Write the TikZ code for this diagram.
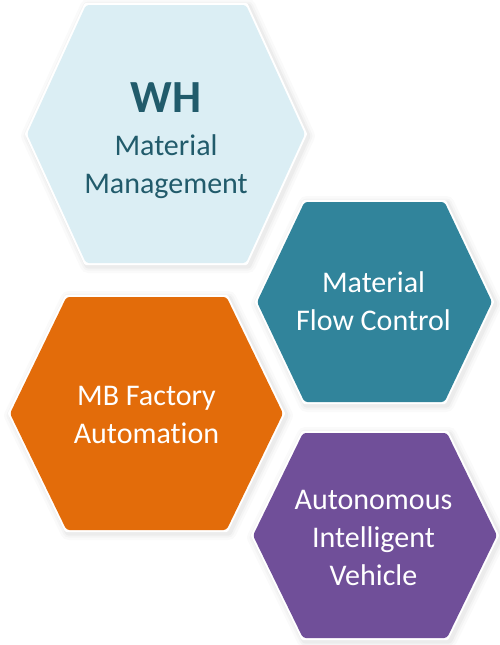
\documentclass[tikz,border=0pt]{standalone}
\usepackage{fontspec}
\setmainfont{Carlito}[Ligatures={NoCommon}]
\definecolor{hexlight}{HTML}{DBEEF4}
\definecolor{hexlighttext}{HTML}{215B6B}
\definecolor{hexteal}{HTML}{31849B}
\definecolor{hexorange}{HTML}{E36C0A}
\definecolor{hexpurple}{HTML}{704F99}
\newcommand\myhex[6]{%
  \path[#6] ({#1-#3},{#2}) -- ({#1-#5},{#2-#4}) -- ({#1+#5},{#2-#4}) -- ({#1+#3},{#2}) -- ({#1+#5},{#2+#4}) -- ({#1-#5},{#2+#4}) -- cycle;}
\newcommand\myhexfull[6]{%
  \myhex{#1}{#2}{#3}{#4}{#5}{glowA}
  \myhex{#1}{#2}{#3}{#4}{#5}{glowB}
  \myhex{#1}{#2}{#3}{#4}{#5}{glowC}
  \myhex{#1}{#2}{#3}{#4}{#5}{rimwhite}
  \myhex{#1}{#2}{#3}{#4}{#5}{fill=#6, rounded corners=3pt}}
\tikzset{
  glowA/.style={draw=black, line width=16pt, opacity=0.02, line join=round, shift={(2,2)}},
  glowB/.style={draw=black, line width=11pt, opacity=0.025, line join=round, shift={(2,2)}},
  glowC/.style={draw=black, line width=7pt, opacity=0.03, line join=round, shift={(2,2)}},
  rimwhite/.style={draw=white, line width=4pt, line join=round},
  hextext/.style={align=center, font=\fontsize{30}{38}\selectfont, text=white, inner sep=0pt, anchor=base},
}
\begin{document}
\begin{tikzpicture}[x=1pt, y=-1pt]
\useasboundingbox[fill=white] (0,0) rectangle (500,645);
\myhexfull{166}{134}{139}{129}{80}{hexlight}
\myhexfull{374.5}{302}{117.5}{100}{70}{hexteal}
\myhexfull{146.5}{413.5}{136.5}{116.5}{80}{hexorange}
\myhexfull{375}{535.5}{122}{102.5}{72}{hexpurple}
\node[hextext, text=hexlighttext, font=\bfseries\fontsize{46}{46}\selectfont] (wh) at (166,112) {WH};
\node[hextext, text=hexlighttext] (mm) at (166,193) {Material\\Management};
\node[hextext] (mfc) at (373.5,330) {Material\\Flow Control};
\node[hextext] (mbf) at (146.5,443) {MB Factory\\Automation};
\node[hextext] (aiv) at (373.5,585) {Autonomous\\Intelligent\\Vehicle};
\end{tikzpicture}
\end{document}
